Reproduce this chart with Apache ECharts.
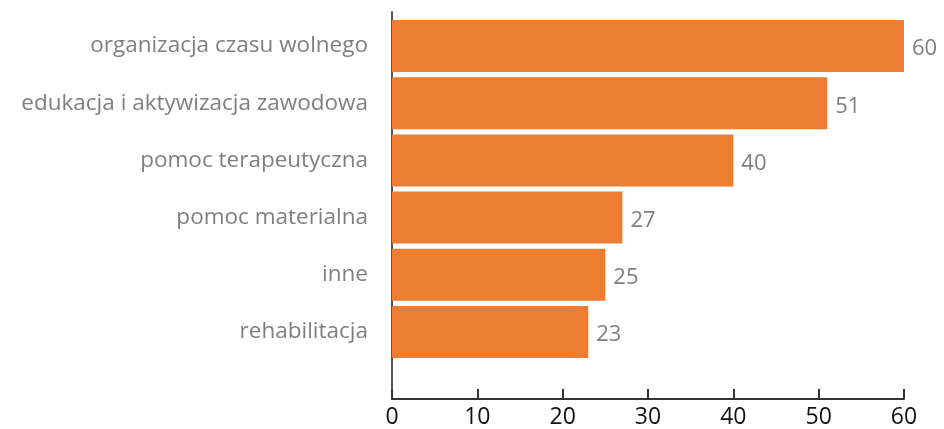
<!DOCTYPE html>
<html>
<head>
<meta charset="utf-8">
<script src="https://cdn.jsdelivr.net/npm/echarts@6/dist/echarts.min.js"></script>
<style>
  html, body { margin: 0; padding: 0; background: #fff; }
  #main { width: 944px; height: 429px; }
</style>
</head>
<body>
<div id="main"></div>
<script>
    var categories = ['rehabilitacja', 'inne', 'pomoc materialna', 'pomoc terapeutyczna',
        'edukacja i aktywizacja zawodowa', 'organizacja czasu wolnego'];
    var values = [23, 25, 27, 40, 51, 60];
    var xTicks = [0, 10, 20, 30, 40, 50, 60];

    var font = '"Open Sans", "Noto Sans", sans-serif';
    var myChart = echarts.init(document.getElementById('main'));

    var option = {
        animation: false,
        grid: [
            // bars
            {left: 392, right: 40, top: 17.5, height: 343},
            // frame with the axes
            {left: 392, right: 40, top: 12, bottom: 28}
        ],
        xAxis: [
            {gridIndex: 0, type: 'value', min: 0, max: 60, show: false},
            {
                gridIndex: 1, type: 'value', min: xTicks[0], max: xTicks[xTicks.length - 1], interval: 10,
                axisLine: {lineStyle: {color: '#333', width: 2}},
                axisTick: {inside: true, length: 10, lineStyle: {color: '#333', width: 2}},
                axisLabel: {color: '#111', fontSize: 23, fontFamily: font, margin: 7},
                splitLine: {show: false}
            }
        ],
        yAxis: [
            {
                gridIndex: 0, type: 'category', data: categories,
                axisLine: {show: false},
                axisTick: {show: false},
                axisLabel: {color: '#7f7f7f', fontSize: 22.5, fontFamily: font, margin: 24}
            },
            {
                gridIndex: 1, type: 'value', min: 0, max: 1,
                axisLine: {show: true, lineStyle: {color: '#555', width: 2}},
                axisTick: {show: false},
                axisLabel: {show: false},
                splitLine: {show: false}
            }
        ],
        series: [
            {
                type: 'bar',
                xAxisIndex: 0,
                yAxisIndex: 0,
                data: values,
                barCategoryGap: '9%',
                itemStyle: {color: '#ED7D31'},
                label: {
                    show: true,
                    position: 'right',
                    distance: 8,
                    offset: [0, 3],
                    color: '#7f7f7f',
                    fontSize: 22,
                    fontFamily: font
                }
            }
        ]
    };

    myChart.setOption(option);
</script>
</body>
</html>
